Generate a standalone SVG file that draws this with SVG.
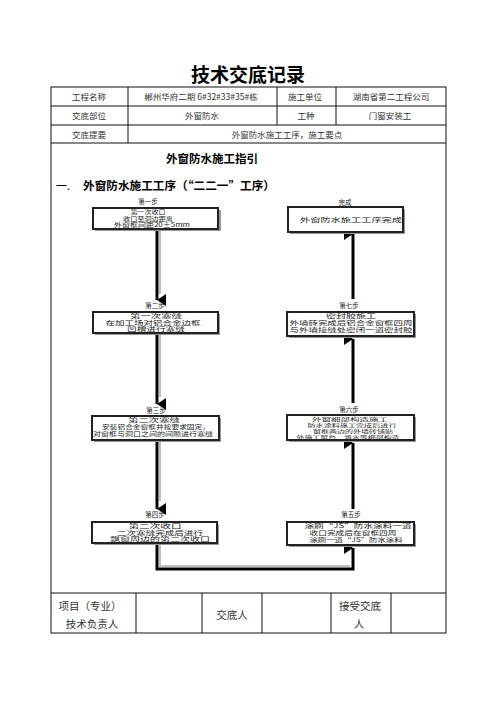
<svg xmlns="http://www.w3.org/2000/svg" width="496" height="702" viewBox="0 0 496 702">
<style>
text{font-family:"Noto Sans CJK SC","Liberation Serif",serif;dominant-baseline:central;text-anchor:middle;}
.h{font-size:8.5px;fill:#333;}
.b{font-size:5.6px;fill:#222;}
.b4{font-size:4.8px;fill:#222;}
.lbl{font-size:6.5px;fill:#222;}
.bx{fill:#fff;stroke:#222;stroke-width:2;}
.sh{fill:#999;}
.tb{fill:none;stroke:#111;stroke-width:1;}
.cn{fill:none;stroke:#000;stroke-width:3;}
.cs{fill:none;stroke:#aaa;stroke-width:1.5;}
.ft{font-size:10.5px;fill:#333;}
</style>
<defs>
<marker id="ad" markerWidth="12" markerHeight="10" refX="6" refY="9" orient="auto" markerUnits="userSpaceOnUse" viewBox="0 0 12 10">
<path d="M0,0 L12,0 L6,9 Z" fill="#000"/>
</marker>
</defs>
<rect width="496" height="702" fill="#fff"/>
<text x="248" y="73" style="font-size:19px;font-weight:bold;fill:#000">技术交底记录</text>
<g id="table">
<rect class="tb" x="51" y="87" width="395" height="546"/>
<line class="tb" x1="51" y1="106" x2="446" y2="106"/>
<line class="tb" x1="51" y1="125" x2="446" y2="125"/>
<line class="tb" x1="51" y1="143" x2="446" y2="143"/>
<line class="tb" x1="51" y1="593" x2="446" y2="593"/>
<line class="tb" x1="128" y1="87" x2="128" y2="143"/>
<line class="tb" x1="277" y1="87" x2="277" y2="125"/>
<line class="tb" x1="336" y1="87" x2="336" y2="125"/>
<line class="tb" x1="136" y1="593" x2="136" y2="633"/>
<line class="tb" x1="202" y1="593" x2="202" y2="633"/>
<line class="tb" x1="262" y1="593" x2="262" y2="633"/>
<line class="tb" x1="331" y1="593" x2="331" y2="633"/>
<line class="tb" x1="391" y1="593" x2="391" y2="633"/>
<text class="h" x="89" y="96">工程名称</text>
<text class="h" x="201" y="96">郴州华府二期 6#32#33#35#栋</text>
<text class="h" x="305" y="96">施工单位</text>
<text class="h" x="391" y="96">湖南省第二工程公司</text>
<text class="h" x="89" y="115">交底部位</text>
<text class="h" x="202" y="115">外窗防水</text>
<text class="h" x="306" y="115">工种</text>
<text class="h" x="390" y="115">门窗安装工</text>
<text class="h" x="89" y="134">交底提要</text>
<text class="h" x="287" y="134">外窗防水施工工序，施工要点</text>
<text x="212" y="158" style="font-size:11.5px;font-weight:bold;fill:#000">外窗防水施工指引</text>
<text x="63" y="185" style="font-size:11px;fill:#000">一.</text>
<text x="179" y="185" textLength="192" lengthAdjust="spacingAndGlyphs" style="font-size:11.5px;font-weight:bold;fill:#000">外窗防水施工工序（“二二一”工序）</text>
<text class="ft" x="90" y="605">项目（专业）</text>
<text class="ft" x="92" y="623">技术负责人</text>
<text class="ft" x="232" y="614">交底人</text>
<text class="ft" x="360" y="605">接受交底</text>
<text class="ft" x="359" y="623">人</text>
</g>
<g id="connectors">
<line class="cs" x1="160" y1="230" x2="160" y2="294"/>
<line class="cn" x1="157" y1="230" x2="157" y2="300" marker-end="url(#ad)"/>
<line class="cs" x1="160" y1="335" x2="160" y2="397"/>
<line class="cn" x1="157" y1="335" x2="157" y2="404" marker-end="url(#ad)"/>
<line class="cs" x1="160" y1="442" x2="160" y2="501"/>
<line class="cn" x1="157" y1="442" x2="157" y2="509" marker-end="url(#ad)"/>
<polyline class="cs" points="160,545 160,566 350,566"/>
<polyline class="cn" points="157,545 157,569 353,569 353,548" marker-end="url(#ad)"/>
<line class="cn" x1="353" y1="509" x2="353" y2="443" marker-end="url(#ad)"/>
<line class="cn" x1="353" y1="403" x2="353" y2="339" marker-end="url(#ad)"/>
<line class="cn" x1="353" y1="299" x2="353" y2="234" marker-end="url(#ad)"/>
</g>
<g id="step1">
<text class="lbl" x="148" y="201">第一步</text>
<rect class="sh" x="95" y="210" width="126" height="21"/>
<rect class="bx" x="93" y="208" width="125" height="21"/>
<text class="b" x="148" y="212" textLength="35" lengthAdjust="spacingAndGlyphs">第一次收口</text>
<text class="b" x="148" y="218.5" textLength="50" lengthAdjust="spacingAndGlyphs">收口至洞边距离</text>
<text class="b" x="152" y="225" textLength="76" lengthAdjust="spacingAndGlyphs">外窗框间距20±5mm</text>
</g>
<g id="step2">
<text class="lbl" x="155" y="305">第二步</text>
<rect class="sh" x="95" y="314" width="125" height="21"/>
<rect class="bx" x="93" y="312" width="125" height="21"/>
<text class="b" x="156" y="316" textLength="52" lengthAdjust="spacingAndGlyphs">第一次塞缝</text>
<text class="b" x="153" y="322.5" textLength="95" lengthAdjust="spacingAndGlyphs">在加工场对铝合金边框</text>
<text class="b" x="156" y="329" textLength="58" lengthAdjust="spacingAndGlyphs">凹槽进行塞缝</text>
</g>
<g id="step3">
<text class="lbl" x="156" y="410">第三步</text>
<rect class="sh" x="94" y="418" width="127" height="24"/>
<rect class="bx" x="92" y="416" width="127" height="24"/>
<text class="b" x="154" y="420" textLength="52" lengthAdjust="spacingAndGlyphs">第二次塞缝</text>
<text class="b" x="156" y="427" textLength="108" lengthAdjust="spacingAndGlyphs">安装铝合金窗框并按要求固定，</text>
<text class="b" x="153" y="434" textLength="120" lengthAdjust="spacingAndGlyphs">对窗框与洞口之间的间隙进行塞缝</text>
</g>
<g id="step4">
<text class="lbl" x="155" y="514">第四步</text>
<rect class="sh" x="94" y="524" width="125" height="21"/>
<rect class="bx" x="92" y="522" width="125" height="21"/>
<text class="b" x="155" y="526" textLength="53" lengthAdjust="spacingAndGlyphs">第二次收口</text>
<text class="b" x="160" y="532.5" textLength="86" lengthAdjust="spacingAndGlyphs">二次塞缝完成后进行</text>
<text class="b" x="160" y="539" textLength="100" lengthAdjust="spacingAndGlyphs">飘窗周边的第二次收口</text>
</g>
<g id="step5">
<text class="lbl" x="351" y="514">第五步</text>
<rect class="sh" x="289" y="524" width="127" height="23"/>
<rect class="bx" x="287" y="522" width="127" height="23"/>
<text class="b" x="358" y="526" textLength="107" lengthAdjust="spacingAndGlyphs">涂刷“JS”防水涂料一道</text>
<text class="b" x="353" y="533" textLength="87" lengthAdjust="spacingAndGlyphs">收口完成后在窗框四周</text>
<text class="b" x="356" y="540" textLength="93" lengthAdjust="spacingAndGlyphs">涂刷一道“JS”防水涂料</text>
</g>
<g id="step6">
<text class="lbl" x="349" y="409">第六步</text>
<rect class="sh" x="289" y="417" width="127" height="25"/>
<rect class="bx" x="287" y="415" width="127" height="25"/>
<text class="b4" x="350" y="418.5" textLength="76" lengthAdjust="spacingAndGlyphs">外窗细部构造施工</text>
<text class="b4" x="352" y="424.5" textLength="89" lengthAdjust="spacingAndGlyphs">防水涂料施工完成后进行</text>
<text class="b4" x="353" y="430.5" textLength="80" lengthAdjust="spacingAndGlyphs">窗框两边的外墙砖铺贴</text>
<text class="b4" x="348" y="436.5" textLength="103" lengthAdjust="spacingAndGlyphs">外施工窗台、滴水等细部构造</text>
</g>
<g id="step7">
<text class="lbl" x="349" y="305">第七步</text>
<rect class="sh" x="289" y="314" width="127" height="24"/>
<rect class="bx" x="287" y="312" width="127" height="24"/>
<text class="b" x="351" y="316" textLength="50" lengthAdjust="spacingAndGlyphs">密封胶施工</text>
<text class="b" x="351" y="323" textLength="123" lengthAdjust="spacingAndGlyphs">外墙砖完成后铝合金窗框四周</text>
<text class="b" x="351" y="330" textLength="123" lengthAdjust="spacingAndGlyphs">与外墙接缝处密闭一道密封胶</text>
</g>
<g id="done">
<text class="lbl" x="345" y="202">完成</text>
<rect class="sh" x="290" y="209" width="115" height="25"/>
<rect class="bx" x="288" y="207" width="115" height="25"/>
<text class="b" x="351" y="219.5" textLength="102" lengthAdjust="spacingAndGlyphs">外窗防水施工工序完成</text>
</g>
</svg>
